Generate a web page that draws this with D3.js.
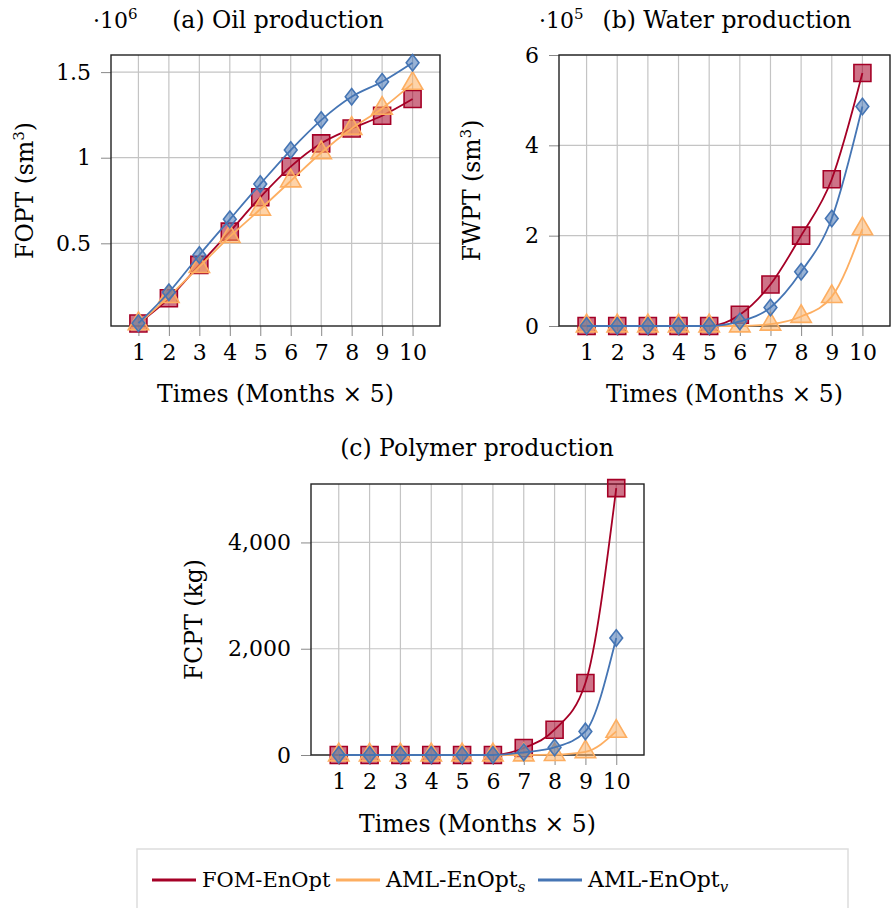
<!DOCTYPE html>
<html>
<head>
<meta charset="utf-8">
<script src="https://cdn.jsdelivr.net/npm/d3@7"></script>
<style>
body { margin: 0; background: #fff; }
text { font-family: "DejaVu Serif", serif; fill: #000; }
</style>
</head>
<body>
<svg id="chart" width="891" height="908"></svg>
<script>
// x values (times, months x 5)
var months = [1, 2, 3, 4, 5, 6, 7, 8, 9, 10]
var seriesNames = ['FOM-EnOpt', 'AML-EnOpt', 'AML-EnOpt']
var seriesSubs = ['', 's', 'v']
var seriesColors = ['#a50026', '#fdae61', '#4575b4']

// (a) oil, x 1e6 sm3
var oilFOM = [0.032, 0.179, 0.374, 0.568, 0.769, 0.948, 1.084, 1.171, 1.245, 1.343]
var oilAMLs = [0.03, 0.189, 0.364, 0.539, 0.699, 0.864, 1.029, 1.171, 1.288, 1.434]
var oilAMLv = [0.033, 0.214, 0.432, 0.64, 0.846, 1.045, 1.22, 1.356, 1.444, 1.555]
var oilTicks = [0.5, 1, 1.5]

// (b) water, x 1e5 sm3
var waterFOM = [0, 0, 0, 0, 0, 0.25, 0.92, 2.0, 3.25, 5.6]
var waterAMLs = [0, 0, 0, 0, 0, 0, 0.04, 0.21, 0.65, 2.15]
var waterAMLv = [0, 0, 0, 0, 0, 0.1, 0.41, 1.2, 2.38, 4.86]
var waterTicks = [0, 2, 4, 6]

// (c) polymer, kg
var polyFOM = [0, 0, 0, 0, 0, 0, 132, 476, 1355, 5023]
var polyAMLs = [0, 0, 0, 0, 0, 0, 0, 8, 60, 444]
var polyAMLv = [0, 0, 0, 0, 0, 0, 50, 143, 444, 2201]
var polyTicks = [0, 2000, 4000]

var svg = d3.select('#chart')
var fs = 22      // tick labels, legend
var fsLab = 23.5 // titles, axis labels
var font = '"DejaVu Serif", serif'

var panels = [
    {
        box: {x0: 111, x1: 440, y0: 55, y1: 326},
        ydom: [0.017, 1.6], yticks: oilTicks, fmt: d3.format('~g'),
        data: [oilFOM, oilAMLs, oilAMLv],
        title: '(a) Oil production', titleX: 278, titleY: 28,
        expo: '6', expoX: 93,
        ylab: 'FOPT (sm', yunit: '3', ylabX: 33,
        xlabY: 402
    },
    {
        box: {x0: 559, x1: 890, y0: 55, y1: 326},
        ydom: [0, 6], yticks: waterTicks, fmt: d3.format('~g'),
        data: [waterFOM, waterAMLs, waterAMLv],
        title: '(b) Water production', titleX: 727, titleY: 28,
        expo: '5', expoX: 539,
        ylab: 'FWPT (sm', yunit: '3', ylabX: 480,
        xlabY: 402
    },
    {
        box: {x0: 311, x1: 644, y0: 484, y1: 755},
        ydom: [0, 5100], yticks: polyTicks, fmt: d3.format(','),
        data: [polyFOM, polyAMLs, polyAMLv],
        title: '(c) Polymer production', titleX: 477, titleY: 456,
        expo: null,
        ylab: 'FCPT (kg)', yunit: null, ylabX: 202,
        xlabY: 832
    }
]

function marker(i, size) {
    if (i == 0) return d3.symbol().type(d3.symbolSquare).size(size * size)()
    if (i == 1) return d3.symbol().type(d3.symbolTriangle).size(size * size * 0.5)()
    var h = size * 0.5
    return 'M0,' + (-h * 1.1) + 'L' + (h * 0.85) + ',0L0,' + (h * 1.1) + 'L' + (-h * 0.85) + ',0Z'
}

panels.forEach(function (p) {
    var b = p.box
    var xscale = d3.scaleLinear().domain([0.1, 10.9]).range([b.x0, b.x1])
    var yscale = d3.scaleLinear().domain(p.ydom).range([b.y1, b.y0])
    var g = svg.append('g')

    // grid
    g.selectAll('.vgrid').data(months).enter().append('line')
        .attr('x1', d => xscale(d)).attr('x2', d => xscale(d))
        .attr('y1', b.y0).attr('y2', b.y1)
        .attr('stroke', '#c4c4c4').attr('stroke-width', 1.2)
    g.selectAll('.hgrid').data(p.yticks).enter().append('line')
        .attr('x1', b.x0).attr('x2', b.x1)
        .attr('y1', d => yscale(d)).attr('y2', d => yscale(d))
        .attr('stroke', '#c4c4c4').attr('stroke-width', 1.2)

    // axes with outside ticks
    var xa = g.append('g').attr('transform', 'translate(0,' + b.y1 + ')')
        .call(d3.axisBottom(xscale).tickValues(months).tickSize(10).tickPadding(8))
    var ya = g.append('g').attr('transform', 'translate(' + b.x0 + ',0)')
        .call(d3.axisLeft(yscale).tickValues(p.yticks).tickSize(10).tickFormat(p.fmt).tickPadding(10))
    ;[xa, ya].forEach(function (a) {
        a.select('.domain').remove()
        a.selectAll('line').attr('stroke', '#888')
        a.selectAll('text').style('font-family', font).style('font-size', fs + 'px').attr('fill', '#000')
    })

    g.append('rect').attr('x', b.x0).attr('y', b.y0)
        .attr('width', b.x1 - b.x0).attr('height', b.y1 - b.y0)
        .attr('fill', 'none').attr('stroke', '#222').attr('stroke-width', 1.4)

    var line = d3.line()
        .x((d, i) => xscale(months[i]))
        .y(d => yscale(d))
        .curve(d3.curveMonotoneX)

    p.data.forEach(function (vals, si) {
        var c = seriesColors[si]
        g.append('path').attr('d', line(vals))
            .attr('fill', 'none').attr('stroke', c).attr('stroke-width', 1.8)
        g.selectAll('.m' + si).data(vals).enter().append('path')
            .attr('d', marker(si, si == 0 ? 17 : (si == 1 ? 19 : 15)))
            .attr('transform', (d, i) => 'translate(' + xscale(months[i]) + ',' + yscale(d) + ')')
            .attr('fill', c).attr('fill-opacity', 0.55)
            .attr('stroke', c).attr('stroke-width', 1.6)
    })

    // title
    g.append('text').text(p.title).attr('x', p.titleX).attr('y', p.titleY)
        .attr('text-anchor', 'middle').style('font-size', fsLab + 'px')
    if (p.expo) {
        var e = g.append('text').attr('x', p.expoX).attr('y', p.titleY).style('font-size', fs + 'px')
        e.append('tspan').text('·10')
        e.append('tspan').text(p.expo).attr('dy', -9).style('font-size', '15px')
    }

    // x label
    g.append('text').text('Times (Months × 5)').attr('x', (b.x0 + b.x1) / 2).attr('y', p.xlabY)
        .attr('text-anchor', 'middle').style('font-size', fsLab + 'px')

    // y label
    var yl = g.append('text')
        .attr('transform', 'translate(' + p.ylabX + ',' + ((b.y0 + b.y1) / 2) + ') rotate(-90)')
        .attr('text-anchor', 'middle').style('font-size', fsLab + 'px')
    yl.append('tspan').text(p.ylab)
    if (p.yunit) {
        yl.append('tspan').text(p.yunit).attr('dy', -9).style('font-size', '15px')
        yl.append('tspan').text(')').attr('dy', 9)
    }
})

// legend
var leg = svg.append('g')
leg.append('rect').attr('x', 137).attr('y', 849).attr('width', 711).attr('height', 70)
    .attr('fill', '#fff').attr('stroke', '#ddd').attr('stroke-width', 1.5)
var legX = [152, 336, 538]
seriesNames.forEach(function (n, i) {
    leg.append('line').attr('x1', legX[i]).attr('x2', legX[i] + 44)
        .attr('y1', 880).attr('y2', 880)
        .attr('stroke', seriesColors[i]).attr('stroke-width', 3)
    var t = leg.append('text').attr('x', legX[i] + 50).attr('y', 887)
        .style('font-size', (i == 0 ? 21 : fs) + 'px')
    t.append('tspan').text(n)
    if (seriesSubs[i]) {
        t.append('tspan').text(seriesSubs[i]).attr('dy', 5).style('font-size', '15px').style('font-style', 'italic')
    }
})
</script>
</body>
</html>
